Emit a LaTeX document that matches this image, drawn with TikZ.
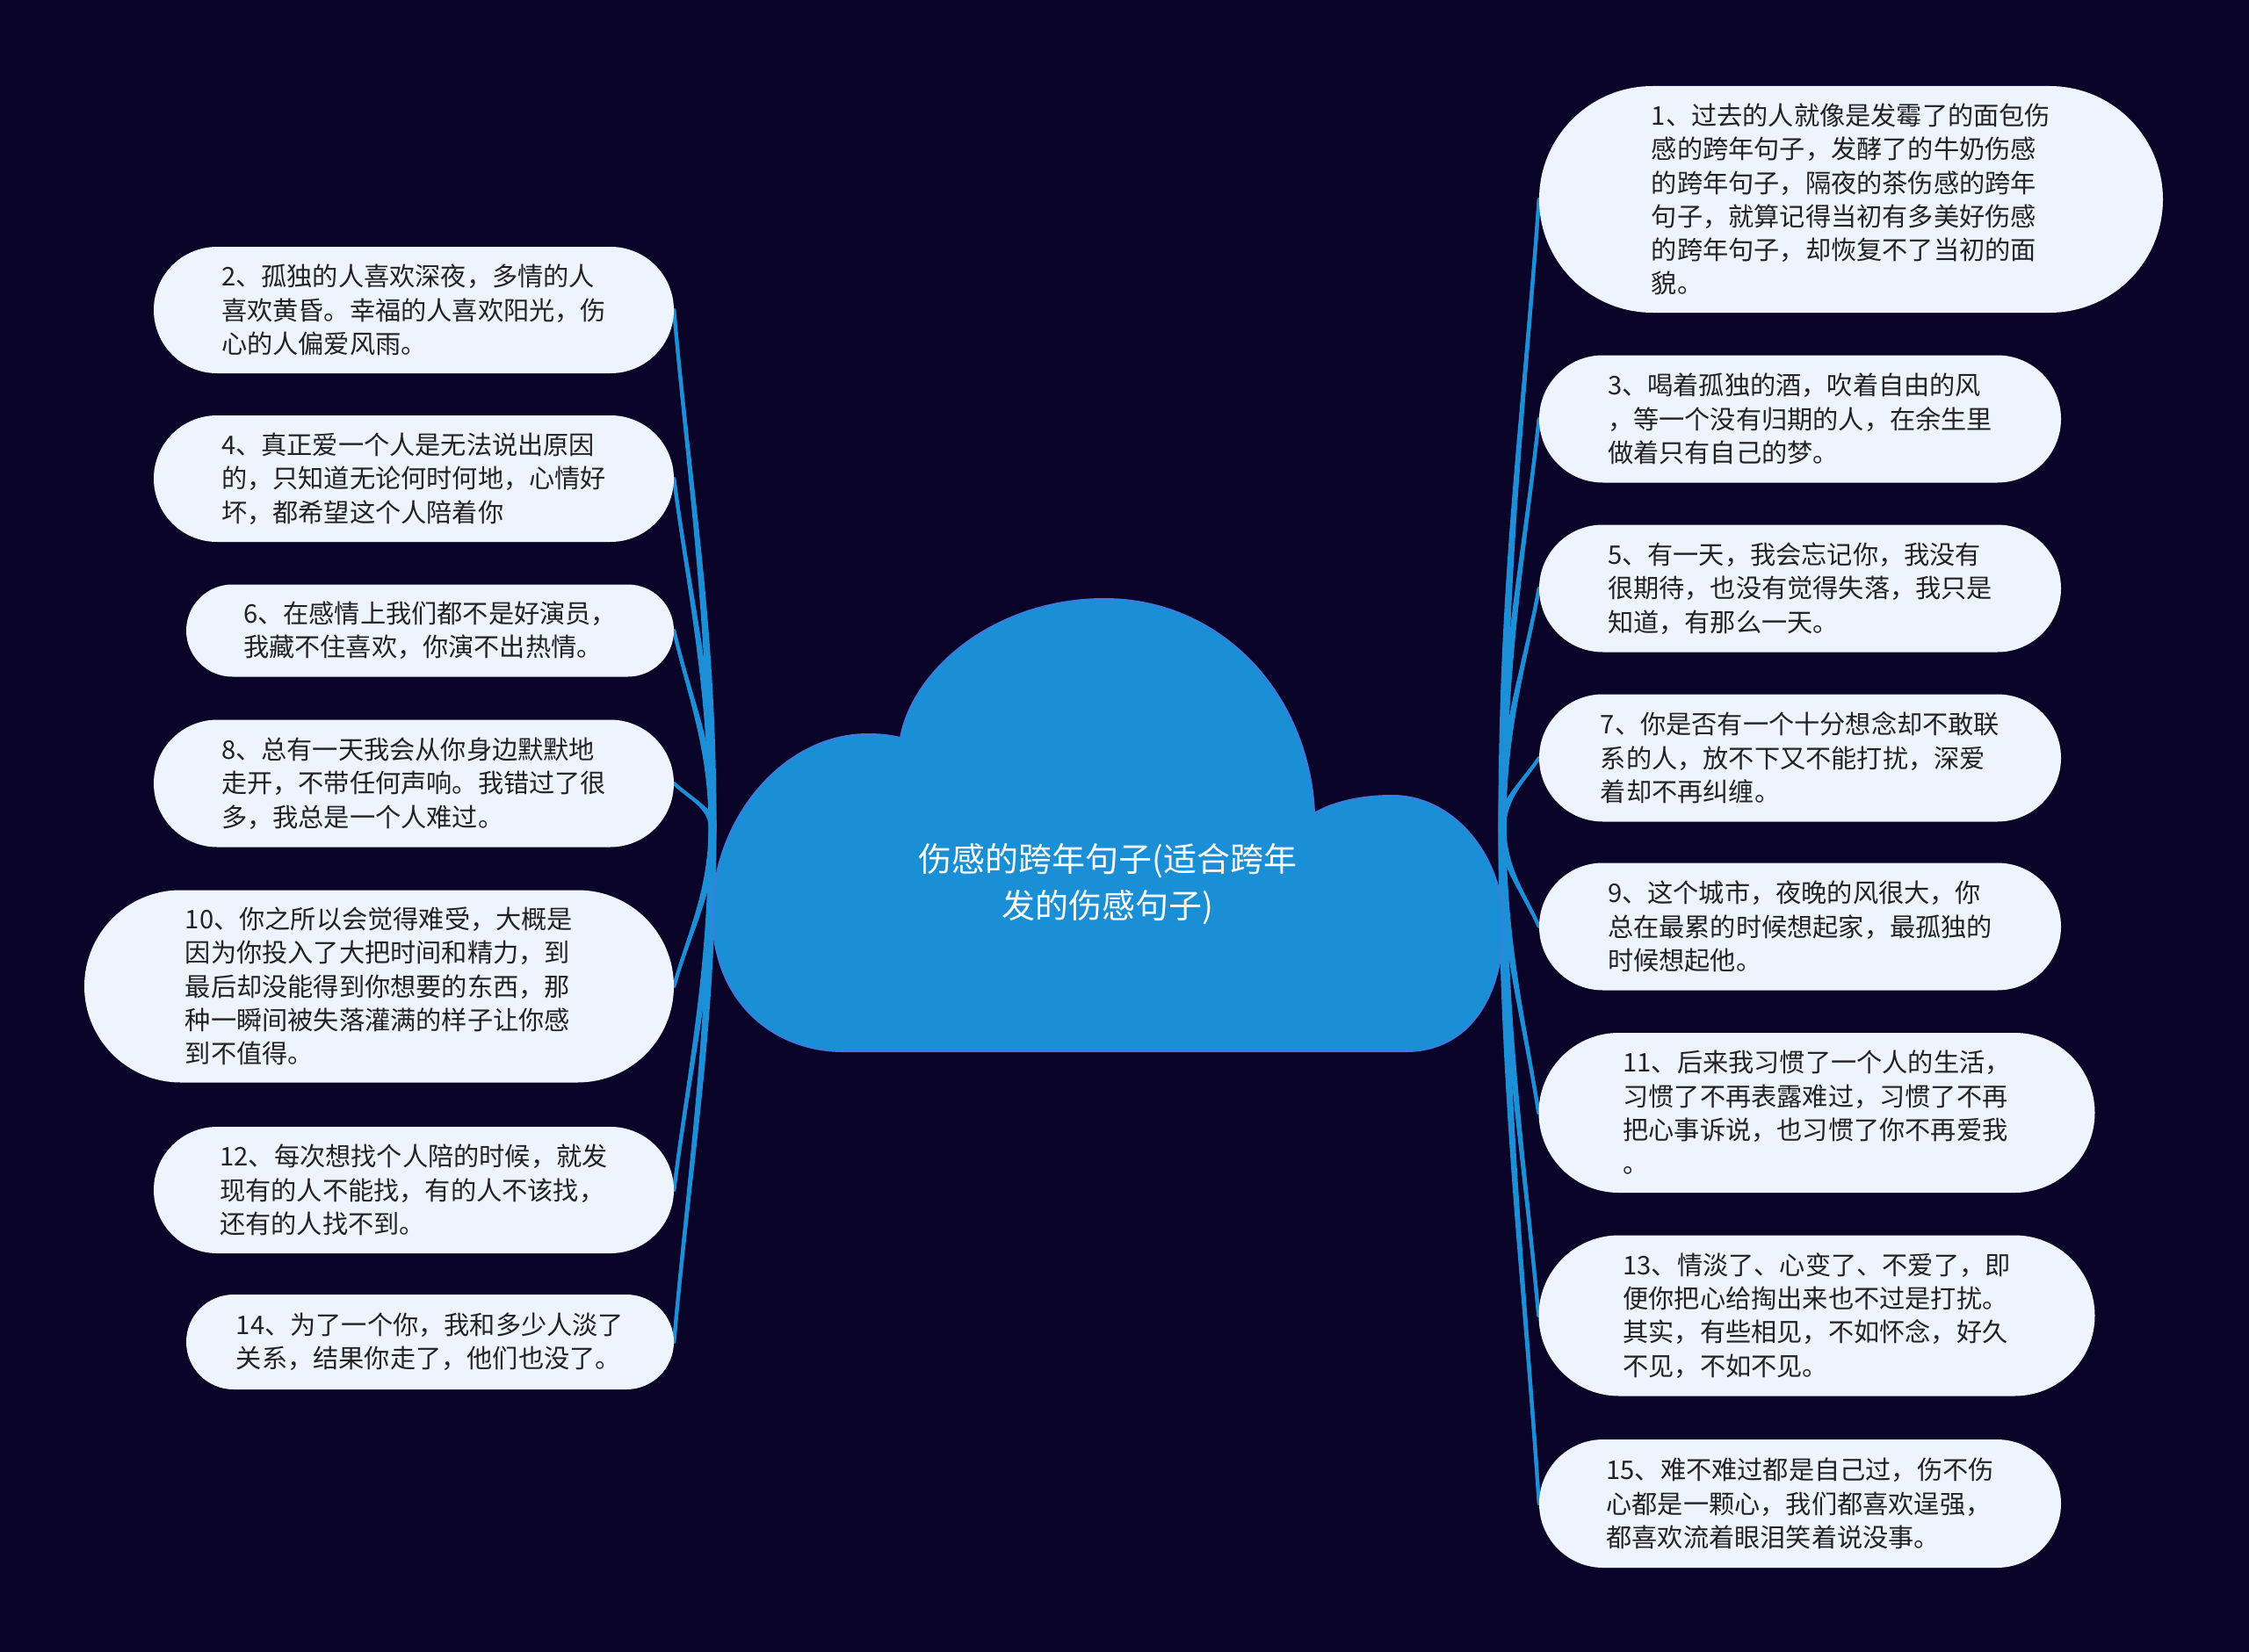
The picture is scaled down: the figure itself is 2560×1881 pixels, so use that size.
\documentclass[tikz,border=0pt]{standalone}
\usepackage{fontspec}
\setmainfont{Noto Sans CJK SC}
\usetikzlibrary{shapes.misc,backgrounds}
\definecolor{bgc}{HTML}{0A0528}
\definecolor{boxc}{HTML}{EEF4FE}
\definecolor{txtc}{HTML}{222222}
\definecolor{linec}{HTML}{1C8FD6}
\definecolor{cloudc}{HTML}{1A8FD5}
\definecolor{cloude}{HTML}{3D7DE0}
% tapered connector: hub, target anchor, control1 dy, control2 dx, control2 dy
\newcommand\tlink[5]{%
  \fill[linec] ([xshift=-4.5pt]#1) .. controls +(0,#3) and +(#4,#5) .. ([xshift=-2pt]#2)
    -- ([xshift=2pt]#2) .. controls +(#4,#5) and +(0,#3) .. ([xshift=4.5pt]#1) -- cycle;
  \draw[link] (#1) .. controls +(0,#3) and +(#4,#5) .. (#2);}
\begin{document}
\begin{tikzpicture}[x=1pt,y=-1pt,
  leaf/.style={rounded rectangle, fill=boxc, inner sep=0pt, align=left, text=txtc,
    font=\fontsize{29.2}{38.3}\selectfont},
  link/.style={draw=linec, line width=4.2pt, line cap=round}]
\begin{scope}[on background layer]
\fill[bgc] (0,0) rectangle (2560,1881);
\end{scope}
\useasboundingbox (0,0) rectangle (2560,1881);

% cloud
\path[fill=cloudc, draw=cloude, line width=2pt]
  (960,1197) -- (1600,1197)
  .. controls (1675,1197) and (1711,1130) .. (1711,1053)
  .. controls (1711,975) and (1655,906) .. (1585,906)
  .. controls (1550,906) and (1518,913) .. (1496,926)
  .. controls (1490,790) and (1390,682) .. (1257,682)
  .. controls (1135,682) and (1040,760) .. (1025,840)
  .. controls (1012,837) and (1000,836) .. (988,836)
  .. controls (890,836) and (811,935) .. (811,1040)
  .. controls (811,1140) and (880,1197) .. (960,1197) -- cycle;
\node[text=white, align=center, font=\fontsize{38}{53}\selectfont] (root) at (1261,1007)
  {伤感的跨年句子(适合跨年\\发的伤感句子)};
\coordinate (hubL) at (811,941);
\coordinate (hubR) at (1710,941);

% right boxes
\node[leaf, minimum width=710, minimum height=258] (b1) at (2107,227)
  {1、过去的人就像是发霉了的面包伤\\感的跨年句子，发酵了的牛奶伤感\\的跨年句子，隔夜的茶伤感的跨年\\句子，就算记得当初有多美好伤感\\的跨年句子，却恢复不了当初的面\\貌。};
\node[leaf, minimum width=594, minimum height=145] (b3) at (2049,477)
  {3、喝着孤独的酒，吹着自由的风\\，等一个没有归期的人，在余生里\\做着只有自己的梦。};
\node[leaf, minimum width=594, minimum height=145] (b5) at (2049,670)
  {5、有一天，我会忘记你，我没有\\很期待，也没有觉得失落，我只是\\知道，有那么一天。};
\node[leaf, minimum width=594, minimum height=145] (b7) at (2049,863)
  {7、你是否有一个十分想念却不敢联\\系的人，放不下又不能打扰，深爱\\着却不再纠缠。};
\node[leaf, minimum width=594, minimum height=145] (b9) at (2049,1055)
  {9、这个城市，夜晚的风很大，你\\总在最累的时候想起家，最孤独的\\时候想起他。};
\node[leaf, minimum width=633, minimum height=182] (b11) at (2068,1267)
  {11、后来我习惯了一个人的生活，\\习惯了不再表露难过，习惯了不再\\把心事诉说，也习惯了你不再爱我\\。};
\node[leaf, minimum width=633, minimum height=183] (b13) at (2068,1498)
  {13、情淡了、心变了、不爱了，即\\便你把心给掏出来也不过是打扰。\\其实，有些相见，不如怀念，好久\\不见，不如不见。};
\node[leaf, minimum width=594, minimum height=146] (b15) at (2049,1712)
  {15、难不难过都是自己过，伤不伤\\心都是一颗心，我们都喜欢逞强，\\都喜欢流着眼泪笑着说没事。};

% left boxes
\node[leaf, minimum width=592, minimum height=144] (b2) at (471,353)
  {2、孤独的人喜欢深夜，多情的人\\喜欢黄昏。幸福的人喜欢阳光，伤\\心的人偏爱风雨。};
\node[leaf, minimum width=592, minimum height=144] (b4) at (471,545)
  {4、真正爱一个人是无法说出原因\\的，只知道无论何时何地，心情好\\坏，都希望这个人陪着你};
\node[leaf, minimum width=555, minimum height=105] (b6) at (489.5,718)
  {6、在感情上我们都不是好演员，\\我藏不住喜欢，你演不出热情。};
\node[leaf, minimum width=592, minimum height=145] (b8) at (471,892)
  {8、总有一天我会从你身边默默地\\走开，不带任何声响。我错过了很\\多，我总是一个人难过。};
\node[leaf, minimum width=671, minimum height=219] (b10) at (431.5,1123)
  {10、你之所以会觉得难受，大概是\\因为你投入了大把时间和精力，到\\最后却没能得到你想要的东西，那\\种一瞬间被失落灌满的样子让你感\\到不值得。};
\node[leaf, minimum width=592, minimum height=144] (b12) at (471,1355)
  {12、每次想找个人陪的时候，就发\\现有的人不能找，有的人不该找，\\还有的人找不到。};
\node[leaf, minimum width=555, minimum height=108] (b14) at (489.5,1528)
  {14、为了一个你，我和多少人淡了\\关系，结果你走了，他们也没了。};

% connectors
\begin{scope}[on background layer]
\tlink{hubL}{b2.east}{-235}{18}{206}
\tlink{hubL}{b4.east}{-158}{18}{139}
\tlink{hubL}{b6.east}{-89}{18}{78}
\tlink{hubL}{b8.east}{-20}{18}{17}
\tlink{hubL}{b10.east}{73}{18}{-64}
\tlink{hubL}{b12.east}{166}{18}{-145}
\tlink{hubL}{b14.east}{235}{18}{-205}
\tlink{hubR}{b1.west}{-286}{-18}{250}
\tlink{hubR}{b3.west}{-186}{-18}{162}
\tlink{hubR}{b5.west}{-108}{-18}{95}
\tlink{hubR}{b7.west}{-31}{-18}{27}
\tlink{hubR}{b9.west}{46}{-18}{-40}
\tlink{hubR}{b11.west}{130}{-18}{-114}
\tlink{hubR}{b13.west}{223}{-18}{-195}
\tlink{hubR}{b15.west}{308}{-18}{-270}
\end{scope}
\end{tikzpicture}
\end{document}
